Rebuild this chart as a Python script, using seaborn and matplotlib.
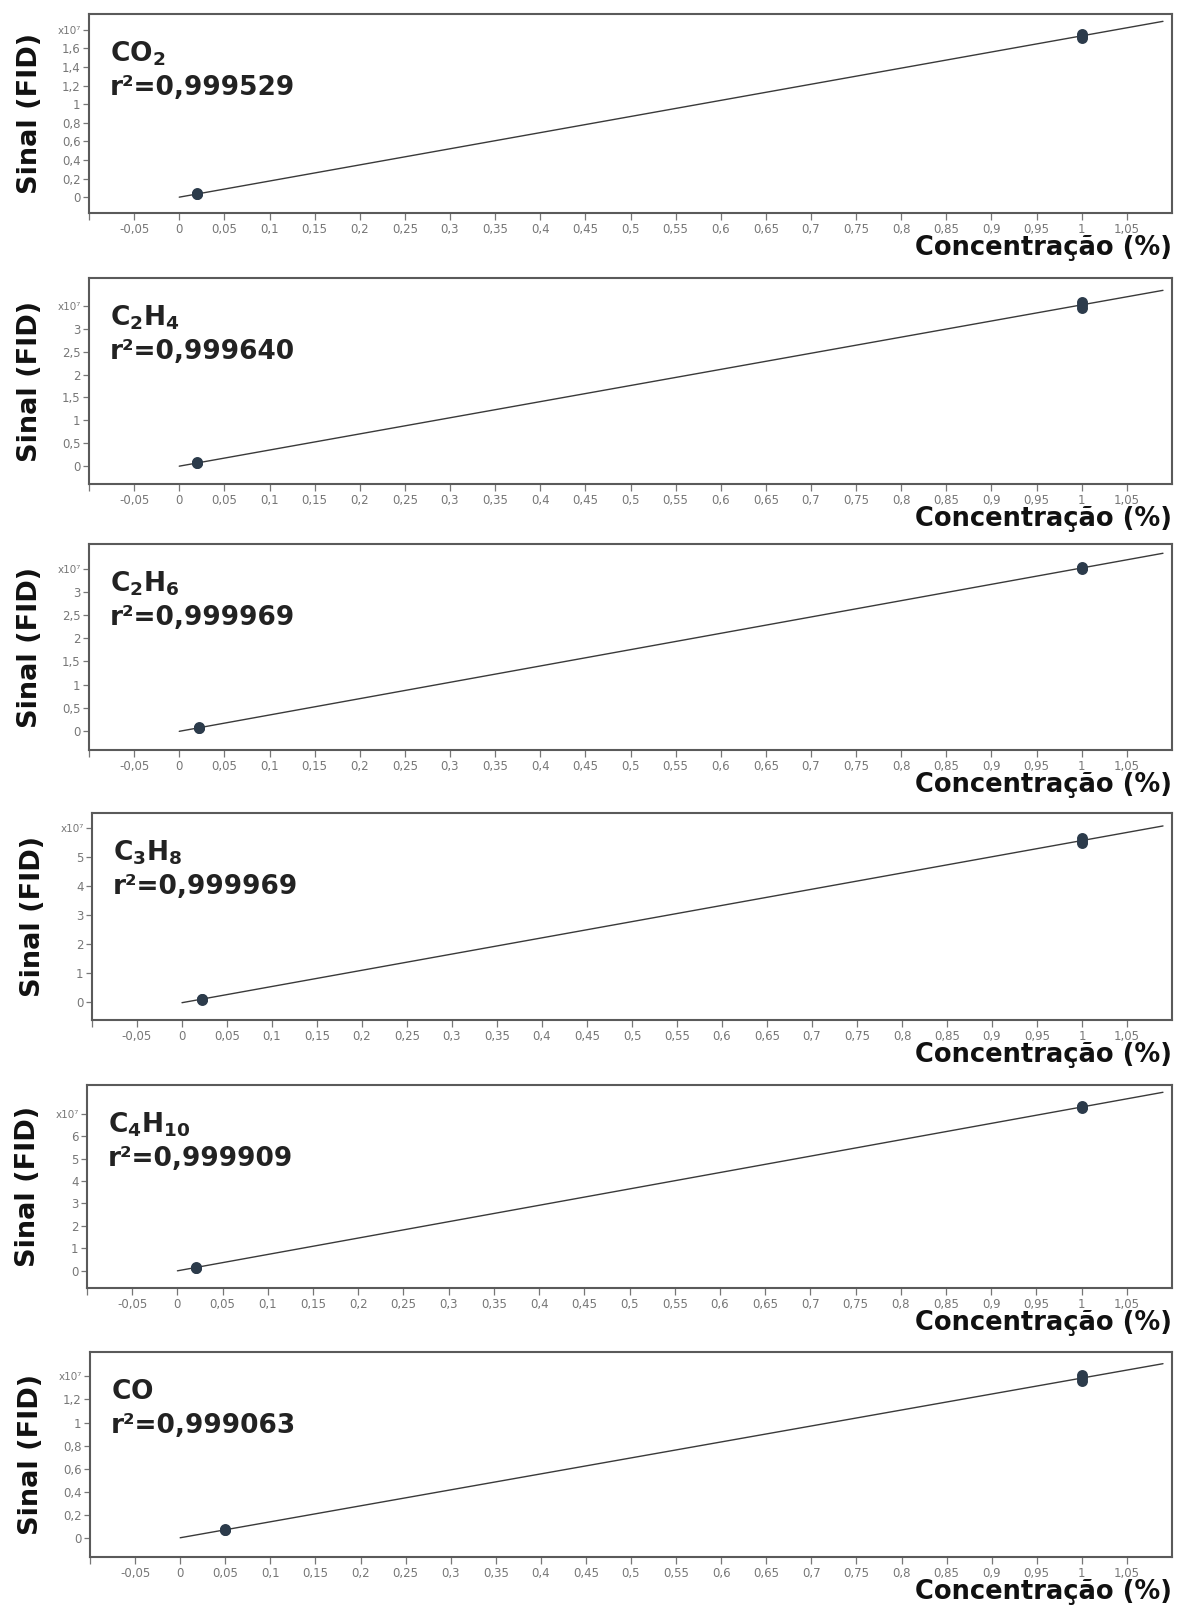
import numpy as np
import pandas as pd
import matplotlib
matplotlib.use("Agg")
import matplotlib.pyplot as plt
import seaborn as sns
from matplotlib.ticker import FixedLocator, FixedFormatter

# ---------------- data (signal in units of 1e7) ----------------
gases = [r"$\mathbf{CO_2}$", r"$\mathbf{C_2H_4}$", r"$\mathbf{C_2H_6}$",
         r"$\mathbf{C_3H_8}$", r"$\mathbf{C_4H_{10}}$", r"$\mathbf{CO}$"]
r2_labels = ["r²=0,999529", "r²=0,999640", "r²=0,999969",
             "r²=0,999969", "r²=0,999909", "r²=0,999063"]

conc_co2 = [0.02, 0.02, 0.02, 1.0, 1.0, 1.0]
sinal_co2 = [0.030, 0.035, 0.040, 1.71, 1.735, 1.76]
conc_c2h4 = [0.02, 0.02, 0.02, 1.0, 1.0, 1.0]
sinal_c2h4 = [0.06, 0.07, 0.08, 3.46, 3.52, 3.59]
conc_c2h6 = [0.022, 0.022, 0.022, 1.0, 1.0, 1.0]
sinal_c2h6 = [0.06, 0.07, 0.08, 3.50, 3.51, 3.53]
conc_c3h8 = [0.022, 0.022, 0.022, 1.0, 1.0, 1.0]
sinal_c3h8 = [0.08, 0.10, 0.12, 5.48, 5.57, 5.66]
conc_c4h10 = [0.02, 0.02, 0.02, 1.0, 1.0, 1.0]
sinal_c4h10 = [0.12, 0.15, 0.18, 7.26, 7.29, 7.32]
conc_co = [0.05, 0.05, 0.05, 1.0, 1.0, 1.0]
sinal_co = [0.07, 0.075, 0.08, 1.36, 1.385, 1.41]

concs = [conc_co2, conc_c2h4, conc_c2h6, conc_c3h8, conc_c4h10, conc_co]
sinais = [sinal_co2, sinal_c2h4, sinal_c2h6, sinal_c3h8, sinal_c4h10, sinal_co]

yticks_co2 = [0, 0.2, 0.4, 0.6, 0.8, 1.0, 1.2, 1.4, 1.6, 1.8]
ylabels_co2 = ["0", "0,2", "0,4", "0,6", "0,8", "1", "1,2", "1,4", "1,6", "x10⁷"]
yticks_c2h4 = [0, 0.5, 1, 1.5, 2, 2.5, 3, 3.5]
ylabels_c2h4 = ["0", "0,5", "1", "1,5", "2", "2,5", "3", "x10⁷"]
yticks_c2h6 = [0, 0.5, 1, 1.5, 2, 2.5, 3, 3.5]
ylabels_c2h6 = ["0", "0,5", "1", "1,5", "2", "2,5", "3", "x10⁷"]
yticks_c3h8 = [0, 1, 2, 3, 4, 5, 6]
ylabels_c3h8 = ["0", "1", "2", "3", "4", "5", "x10⁷"]
yticks_c4h10 = [0, 1, 2, 3, 4, 5, 6, 7]
ylabels_c4h10 = ["0", "1", "2", "3", "4", "5", "6", "x10⁷"]
yticks_co = [0, 0.2, 0.4, 0.6, 0.8, 1.0, 1.2, 1.4]
ylabels_co = ["0", "0,2", "0,4", "0,6", "0,8", "1", "1,2", "x10⁷"]

yticks_all = [yticks_co2, yticks_c2h4, yticks_c2h6, yticks_c3h8, yticks_c4h10, yticks_co]
ylabels_all = [ylabels_co2, ylabels_c2h4, ylabels_c2h6, ylabels_c3h8, ylabels_c4h10, ylabels_co]

xticks = [-0.1, -0.05, 0, 0.05, 0.1, 0.15, 0.2, 0.25, 0.3, 0.35, 0.4, 0.45, 0.5,
          0.55, 0.6, 0.65, 0.7, 0.75, 0.8, 0.85, 0.9, 0.95, 1.0, 1.05]
xlabels = ["", "-0,05", "0", "0,05", "0,1", "0,15", "0,2", "0,25", "0,3", "0,35",
           "0,4", "0,45", "0,5", "0,55", "0,6", "0,65", "0,7", "0,75", "0,8",
           "0,85", "0,9", "0,95", "1", "1,05"]

# ---------------- layout ----------------
W, H = 1177, 1616
tops = [14, 278, 544, 813, 1085, 1352]
bottoms = [213, 484, 750, 1020, 1288, 1557]
lefts = [89, 89, 89, 92, 87, 90]
right = 1172
ylims = [(-0.17, 1.97), (-0.39, 4.11), (-0.41, 4.03), (-0.62, 6.52),
         (-0.76, 8.27), (-0.16, 1.61)]

sns.set_theme(style="white")
plt.rcParams["font.family"] = ["DejaVu Sans"]

fig = plt.figure(figsize=(W / 100, H / 100), dpi=100)
fig.patch.set_facecolor("white")

spine_c = "#5a5a5a"
tick_c = "#777777"
mark_c = "#2c3b4b"

for i in range(6):
    ax = fig.add_axes([lefts[i] / W, 1 - bottoms[i] / H,
                       (right - lefts[i]) / W, (bottoms[i] - tops[i]) / H])
    df = pd.DataFrame({"Concentração": concs[i], "Sinal": sinais[i]})
    # regression line
    coef = np.polyfit(df["Concentração"], df["Sinal"], 1)
    xfit = np.array([0.0, 1.09])
    yfit = np.polyval(coef, xfit)
    sns.lineplot(x=xfit, y=yfit, ax=ax, color="#3a3a3a", linewidth=1.0)
    sns.scatterplot(data=df, x="Concentração", y="Sinal", ax=ax, color=mark_c,
                    s=62, edgecolor=mark_c, linewidth=0, zorder=5)

    ax.set_xlim(-0.1, 1.1)
    ax.set_ylim(*ylims[i])
    ax.xaxis.set_major_locator(FixedLocator(xticks))
    ax.xaxis.set_major_formatter(FixedFormatter(xlabels))
    ax.yaxis.set_major_locator(FixedLocator(yticks_all[i]))
    ax.yaxis.set_major_formatter(FixedFormatter(ylabels_all[i]))
    ax.tick_params(axis="both", which="major", direction="out", length=4,
                   width=0.9, color=tick_c, labelcolor=tick_c, labelsize=8.5,
                   bottom=True, left=True, pad=2)
    ax.tick_params(axis="x", pad=2, length=5)
    for lab in ax.get_yticklabels():
        if lab.get_text().startswith("x10"):
            lab.set_fontsize(7.5)
    for sp in ax.spines.values():
        sp.set_color(spine_c)
        sp.set_linewidth(1.5)
        sp.set_visible(True)

    ax.set_xlabel("")
    ax.set_ylabel("Sinal (FID)", fontsize=19.5, fontweight="bold", color="#111111")
    ax.yaxis.set_label_coords(-46 / (right - lefts[i]), 0.5)

    ax.annotate("Concentração (%)", xy=(1, 0), xycoords="axes fraction",
                xytext=(0, -16), textcoords="offset points", ha="right", va="top",
                fontsize=18.5, fontweight="bold", color="#111111",
                annotation_clip=False)

    ax.annotate(gases[i], xy=(0, 1), xycoords="axes fraction",
                xytext=(15, -34), textcoords="offset points", ha="left",
                va="baseline", fontsize=19, color="#222222")
    ax.annotate(r2_labels[i], xy=(0, 1), xycoords="axes fraction",
                xytext=(15, -58), textcoords="offset points", ha="left",
                va="baseline", fontsize=19, fontweight="bold", color="#222222")

fig.savefig("out.png", dpi=100, facecolor="white")
